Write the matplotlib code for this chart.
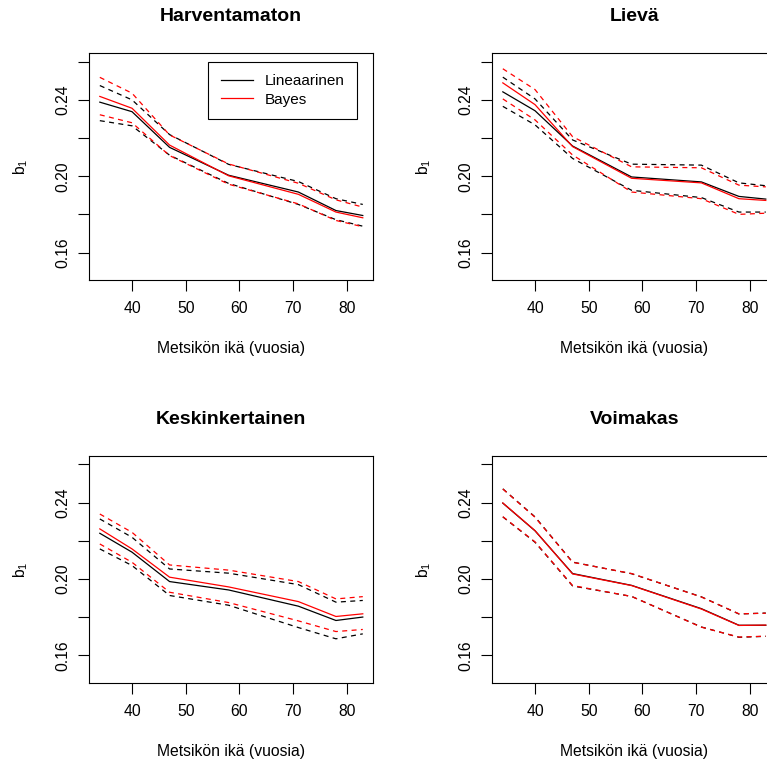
import matplotlib
matplotlib.use("Agg")
import matplotlib.pyplot as plt
from matplotlib.ticker import FixedLocator, FixedFormatter

plt.rcParams['font.family'] = ['Liberation Sans', 'DejaVu Sans']
plt.rcParams['mathtext.fontset'] = 'custom'
plt.rcParams['mathtext.rm'] = 'Liberation Sans'
plt.rcParams['mathtext.it'] = 'Liberation Sans'

# ---------------- data ----------------
ages = [34, 40, 47, 58, 71, 78, 83]

titles = ["Harventamaton", "Lievä", "Keskinkertainen", "Voimakas"]
legend_labels = ["Lineaarinen", "Bayes"]
x_label = "Metsikön ikä (vuosia)"
y_label = r"b$_{\mathregular{1}}$"

x_ticks = [40, 50, 60, 70, 80]
y_ticks = [0.16, 0.18, 0.20, 0.22, 0.24, 0.26]
y_tick_labels = ["0.16", "", "0.20", "", "0.24", ""]

# Harventamaton
harv_lin = [0.2388, 0.2338, 0.2151, 0.2005, 0.1917, 0.1820, 0.1794]
harv_lin_lo = [0.2291, 0.2264, 0.2110, 0.1962, 0.1852, 0.1772, 0.1738]
harv_lin_hi = [0.2475, 0.2400, 0.2218, 0.2062, 0.1972, 0.1882, 0.1852]
harv_bay = [0.2418, 0.2356, 0.2163, 0.2002, 0.1905, 0.1812, 0.1782]
harv_bay_lo = [0.2322, 0.2280, 0.2108, 0.1958, 0.1855, 0.1768, 0.1735]
harv_bay_hi = [0.2518, 0.2435, 0.2216, 0.2064, 0.1963, 0.1876, 0.1838]

# Lievä
liev_lin = [0.2442, 0.2343, 0.2158, 0.1996, 0.1970, 0.1894, 0.1880]
liev_lin_lo = [0.2366, 0.2269, 0.2093, 0.1926, 0.1888, 0.1812, 0.1812]
liev_lin_hi = [0.2519, 0.2405, 0.2190, 0.2063, 0.2058, 0.1965, 0.1950]
liev_bay = [0.2489, 0.2375, 0.2155, 0.1989, 0.1965, 0.1882, 0.1873]
liev_bay_lo = [0.2405, 0.2295, 0.2111, 0.1917, 0.1882, 0.1800, 0.1806]
liev_bay_hi = [0.2563, 0.2454, 0.2207, 0.2049, 0.2044, 0.1953, 0.1944]

# Keskinkertainen
kesk_lin = [0.2239, 0.2140, 0.1986, 0.1942, 0.1857, 0.1782, 0.1800]
kesk_lin_lo = [0.2157, 0.2070, 0.1913, 0.1862, 0.1745, 0.1686, 0.1712]
kesk_lin_hi = [0.2314, 0.2218, 0.2052, 0.2030, 0.1970, 0.1878, 0.1887]
kesk_bay = [0.2262, 0.2157, 0.2009, 0.1958, 0.1881, 0.1803, 0.1817]
kesk_bay_lo = [0.2183, 0.2087, 0.1930, 0.1876, 0.1780, 0.1724, 0.1735]
kesk_bay_hi = [0.2340, 0.2244, 0.2073, 0.2046, 0.1986, 0.1895, 0.1907]

# Voimakas
voim_lin = [0.2397, 0.2252, 0.2028, 0.1966, 0.1844, 0.1757, 0.1757]
voim_lin_lo = [0.2325, 0.2192, 0.1963, 0.1908, 0.1748, 0.1694, 0.1699]
voim_lin_hi = [0.2472, 0.2325, 0.2088, 0.2027, 0.1906, 0.1816, 0.1821]
voim_bay = [0.2398, 0.2253, 0.2026, 0.1965, 0.1842, 0.1756, 0.1758]
voim_bay_lo = [0.2326, 0.2194, 0.1965, 0.1908, 0.1747, 0.1695, 0.1700]
voim_bay_hi = [0.2471, 0.2323, 0.2087, 0.2028, 0.1905, 0.1817, 0.1820]

panels = [
    (harv_lin, harv_lin_lo, harv_lin_hi, harv_bay, harv_bay_lo, harv_bay_hi),
    (liev_lin, liev_lin_lo, liev_lin_hi, liev_bay, liev_bay_lo, liev_bay_hi),
    (kesk_lin, kesk_lin_lo, kesk_lin_hi, kesk_bay, kesk_bay_lo, kesk_bay_hi),
    (voim_lin, voim_lin_lo, voim_lin_hi, voim_bay, voim_bay_lo, voim_bay_hi),
]

# ---------------- layout ----------------
W, H = 767, 765
fig = plt.figure(figsize=(W / 100, H / 100), dpi=100)

ax_w, ax_h = 284, 226.7
lefts = [89.3, 492.3]
tops = [53.3, 456.0]

fs = 11.3
title_fs = 14
dash = (0, (4, 3.5))
lw = 0.9

for i, (title, data) in enumerate(zip(titles, panels)):
    r, c = divmod(i, 2)
    L = lefts[c]
    T = tops[r]
    ax = fig.add_axes([L / W, 1 - (T + ax_h) / H, ax_w / W, ax_h / H])
    lin, lin_lo, lin_hi, bay, bay_lo, bay_hi = data

    ax.plot(ages, lin, color='black', lw=lw, label=legend_labels[0])
    ax.plot(ages, lin_lo, color='black', lw=lw, ls=dash)
    ax.plot(ages, lin_hi, color='black', lw=lw, ls=dash)
    ax.plot(ages, bay, color='#ff0000', lw=lw, label=legend_labels[1])
    ax.plot(ages, bay_lo, color='#ff0000', lw=lw, ls=dash)
    ax.plot(ages, bay_hi, color='#ff0000', lw=lw, ls=dash)

    xr = max(ages) - min(ages)
    ax.set_xlim(min(ages) - 0.04 * xr, max(ages) + 0.04 * xr)
    ax.set_ylim(0.15 - 0.04 * 0.11, 0.26 + 0.04 * 0.11)

    ax.xaxis.set_major_locator(FixedLocator(x_ticks))
    ax.yaxis.set_major_locator(FixedLocator(y_ticks))
    ax.yaxis.set_major_formatter(FixedFormatter(y_tick_labels))
    ax.tick_params(axis='both', direction='out', length=7.7, width=0.8,
                   labelsize=fs, colors='black')
    ax.tick_params(axis='x', pad=7.5)
    ax.tick_params(axis='y', pad=6)
    for lab in ax.get_yticklabels():
        lab.set_rotation(90)
        lab.set_va('center')
        lab.set_ha('right')

    for s in ax.spines.values():
        s.set_linewidth(0.8)
        s.set_color('black')

    ax.set_xlabel(x_label, fontsize=fs, va='center')
    ax.xaxis.set_label_coords(0.5, -69 / ax_h)
    ax.set_ylabel(y_label, fontsize=fs, va='center', ha='center')
    ax.yaxis.set_label_coords(-69 / ax_w, 0.5)

    ax.text(0.5, 1 + 37 / ax_h, title, transform=ax.transAxes,
            ha='center', va='center', fontsize=title_fs, fontweight='bold')

    if i == 0:
        leg = ax.legend(loc='upper right',
                        bbox_to_anchor=(1 - 16.3 / ax_w, 1 - 8.4 / ax_h),
                        borderaxespad=0, fancybox=False, fontsize=11,
                        edgecolor='black', framealpha=1, borderpad=0.8,
                        handlelength=2.1, handletextpad=0.8,
                        labelspacing=0.3)
        leg.get_frame().set_linewidth(0.8)

fig.savefig("out.png", dpi=100)
